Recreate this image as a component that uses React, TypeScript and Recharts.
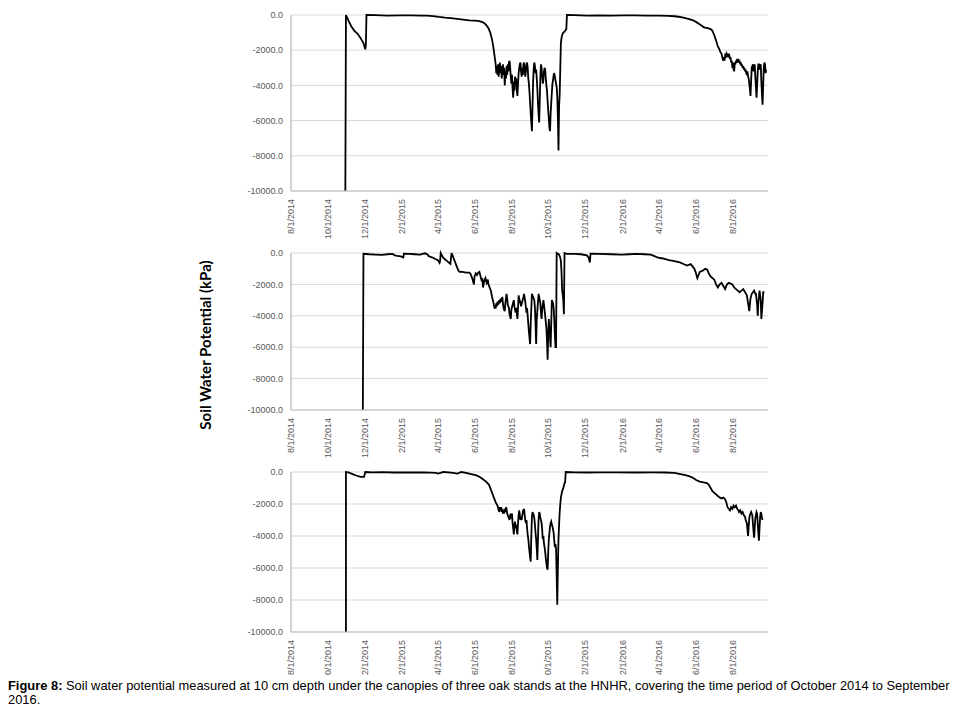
import { LineChart, Line, XAxis, YAxis, CartesianGrid } from 'recharts';

// soil water potential (kPa), [days since 8/1/2014, value]
const stand1: [number, number][] = [
  [90, -10000], [91, 0], [95, -300], [100, -650], [105, -900], [110, -1050], [115, -1300], [120, -1600], [123, -1950], [124, -1700], [125, 0],
  [140, -10], [160, -30], [180, -20], [200, -20], [215, -40], [225, -30], [235, -60], [245, -110], [255, -150], [265, -180], [275, -220],
  [285, -260], [295, -300], [305, -320], [312, -350], [318, -420], [323, -550], [327, -750], [330, -1000], [333, -1400], [335, -1800],
  [337, -2300], [339, -2800], [340, -3300], [341, -2900], [342, -3400], [343, -2800], [344, -3500], [345, -3000], [346, -2700], [347, -3300],
  [348, -2900], [349, -3600], [350, -3100], [351, -2800], [352, -3400], [353, -3000], [354, -4000], [355, -3200], [356, -3600], [357, -2900],
  [358, -3400], [359, -2800], [360, -3200], [361, -2700], [362, -2600], [363, -3000], [364, -3500], [365, -3900], [366, -3400], [367, -4200],
  [368, -4700], [369, -3800], [370, -4300], [371, -3500], [372, -4000], [373, -3600], [374, -4300], [375, -4600], [376, -3900], [377, -3300],
  [378, -3000], [379, -2800], [380, -2700], [381, -3200], [382, -3500], [383, -3000], [384, -3400], [385, -2800], [386, -2700], [387, -3100],
  [388, -3500], [389, -3200], [390, -2800], [391, -2700], [392, -3000], [393, -3600], [394, -3900], [395, -4400], [396, -5000], [397, -5600],
  [398, -6100], [399, -6600], [400, -5200], [401, -3800], [402, -3000], [403, -2700], [404, -2900], [405, -3300], [406, -3100], [407, -3600],
  [408, -4200], [409, -5000], [410, -5600], [411, -6100], [412, -4800], [413, -3500], [414, -2800], [415, -3000], [416, -3500], [417, -3900],
  [418, -3700], [419, -3200], [420, -3000], [421, -3100], [422, -3600], [423, -4000], [424, -4300], [425, -4900], [426, -5400], [427, -5900],
  [428, -6400], [429, -6600], [430, -5600], [431, -5000], [432, -4400], [433, -3900], [434, -3700], [435, -3400], [436, -3300], [437, -3500],
  [438, -3700], [439, -3900], [440, -4100], [441, -4600], [442, -5800], [443, -7700], [444, -5200], [445, -4500], [446, -3000], [447, -1600],
  [448, -1300], [449, -1150], [451, -1000], [453, -950], [455, -850], [456, -800], [457, 0],
  [470, -10], [490, -30], [510, -20], [530, -30], [550, -20], [570, -20], [590, -30], [610, -30], [625, -50], [635, -70], [642, -100],
  [650, -150], [658, -220], [666, -300], [672, -420], [678, -550], [684, -700], [690, -750], [695, -800], [698, -900], [701, -1150],
  [704, -1450], [707, -1800], [709, -1900], [711, -2100], [713, -2200], [715, -2500], [716, -2600], [717, -2400], [718, -2600], [719, -2300],
  [720, -2350], [721, -2200], [722, -2300], [723, -2250], [724, -2400], [725, -2200], [726, -2300], [727, -2500], [728, -2400], [729, -2700],
  [730, -2600], [731, -3000], [732, -2700], [733, -3100], [734, -3200], [735, -2700], [736, -2800], [737, -2600], [738, -2700], [739, -2500],
  [740, -2600], [741, -2500], [742, -2700], [743, -2600], [744, -2800], [745, -2700], [746, -2900], [747, -2800], [748, -3000], [749, -2900],
  [750, -3100], [751, -3000], [752, -3200], [753, -3100], [754, -3300], [755, -3400], [756, -3200], [757, -3500], [758, -3600], [759, -3900],
  [760, -4200], [761, -4600], [762, -3800], [763, -3000], [764, -2900], [765, -2800], [766, -3200], [767, -3000], [768, -2800], [769, -3500],
  [770, -4100], [771, -4700], [772, -4000], [773, -3200], [774, -2800], [775, -2800], [776, -3100], [777, -2900], [778, -2800], [779, -3800],
  [780, -4500], [781, -5100], [782, -4000], [783, -3000], [784, -2700], [785, -2800], [786, -3300], [787, -3100],
];

const stand2: [number, number][] = [
  [119, -10000], [120, -50], [130, -80], [140, -100], [150, -120], [160, -80], [168, -60], [172, -150], [176, -180], [180, -200], [184, -250],
  [186, -280], [187, -50], [195, -60], [205, -80], [214, -100], [218, -50], [222, -20], [226, -100], [228, -200], [235, -300], [240, -400],
  [243, -450], [246, -630], [247, -500], [248, 0], [250, -150], [252, -300], [255, -400], [258, -500], [261, -600], [264, -700], [265, -300],
  [266, 0], [268, -200], [270, -400], [274, -800], [277, -1100], [279, -1200], [284, -1200], [290, -1250], [295, -1250], [297, -1300],
  [300, -1600], [303, -2000], [304, -1500], [306, -1300], [308, -1400], [310, -1250], [312, -1200], [314, -1500], [316, -1800], [317, -1600],
  [318, -2200], [320, -1800], [322, -1600], [324, -1900], [326, -1700], [327, -2000], [329, -2200], [331, -2400], [333, -2800], [335, -3100],
  [336, -3300], [337, -3500], [339, -3500], [340, -3200], [341, -3400], [342, -3100], [343, -3300], [345, -3000], [346, -3200], [347, -2900],
  [348, -3100], [350, -2800], [351, -3200], [352, -3500], [354, -3700], [355, -3200], [357, -2600], [358, -2900], [359, -3300], [361, -3500],
  [362, -3900], [364, -4200], [365, -3600], [367, -3300], [369, -3000], [370, -3400], [372, -3800], [373, -3500], [375, -4200], [376, -3500],
  [377, -2700], [378, -2900], [380, -3200], [381, -3400], [383, -3100], [385, -2800], [386, -2600], [388, -3100], [390, -3800], [391, -3500],
  [393, -4500], [394, -5000], [396, -5800], [397, -4500], [399, -2600], [401, -2800], [403, -3000], [404, -3500], [405, -4500], [406, -5800],
  [407, -4200], [410, -2600], [411, -2800], [413, -3200], [414, -3800], [415, -4200], [416, -3600], [418, -3000], [419, -3300], [421, -4000],
  [423, -4800], [424, -5600], [425, -6800], [426, -5200], [427, -4200], [428, -4800], [430, -6000], [431, -4500], [432, -3000], [434, -3200],
  [435, -3500], [436, -4200], [437, -5200], [438, -6000], [439, -6000], [440, 0], [442, -50], [444, -100], [446, -300], [447, -500],
  [448, -1200], [449, -2300], [451, -3000], [452, -3900], [453, 0], [456, -50], [470, -60], [480, -80], [490, -150], [493, -300], [495, -600],
  [496, -50], [510, -60], [530, -80], [548, -100], [560, -80], [572, -50], [585, -80], [596, -100], [602, -200], [608, -300], [616, -350],
  [626, -450], [635, -520], [644, -600], [650, -700], [656, -800], [662, -700], [665, -850], [668, -1000], [670, -1200], [673, -1600],
  [675, -1400], [677, -1200], [680, -1150], [683, -1100], [686, -1000], [689, -1050], [692, -1300], [695, -1500], [698, -1600], [701, -1700],
  [704, -2000], [707, -2200], [710, -2000], [713, -1900], [716, -2100], [719, -2300], [722, -2000], [725, -1900], [728, -1950], [731, -2000],
  [734, -2200], [737, -2300], [740, -2400], [743, -2500], [746, -2400], [749, -2300], [752, -2500], [755, -2700], [757, -3200], [759, -3700],
  [761, -2900], [763, -2600], [765, -2500], [767, -2400], [769, -2600], [770, -2600], [772, -3300], [773, -4000], [774, -3200], [776, -2400],
  [778, -3000], [779, -4200], [781, -3200], [782, -2500], [784, -2500],
];

const stand3: [number, number][] = [
  [91, -10000], [91, 0], [95, -30], [100, -100], [103, -150], [108, -220], [115, -300], [121, -300], [123, 0], [135, -20], [150, -10],
  [170, -30], [187, -20], [205, -30], [220, -20], [240, -50], [243, -100], [248, -60], [252, 0], [265, -40], [276, -100], [282, 0], [290, -60],
  [300, -150], [306, -200], [312, -300], [318, -450], [323, -600], [328, -800], [331, -1100], [333, -1300], [336, -1600], [339, -1900],
  [342, -2100], [344, -2400], [345, -2500], [346, -2200], [347, -2400], [348, -2200], [349, -2500], [350, -2300], [351, -2600], [352, -2400],
  [353, -2600], [354, -2300], [355, -2500], [356, -2200], [357, -2300], [358, -2600], [360, -2800], [362, -3000], [363, -2700], [364, -2600],
  [365, -2900], [366, -2600], [367, -3200], [368, -3500], [369, -3900], [370, -3400], [371, -3100], [372, -3500], [373, -3300], [374, -3700],
  [375, -3900], [376, -3200], [377, -2700], [378, -2400], [379, -2700], [380, -3000], [381, -2800], [382, -3000], [383, -2700], [384, -2500],
  [385, -2600], [386, -2300], [387, -2700], [388, -3000], [389, -3200], [390, -3000], [391, -3500], [392, -3900], [393, -4200], [394, -4600],
  [395, -5000], [396, -5300], [397, -5600], [398, -4000], [399, -2800], [400, -2500], [401, -2600], [402, -2700], [403, -2900], [404, -3300],
  [405, -3800], [406, -4200], [407, -4800], [408, -5500], [409, -4200], [410, -3000], [411, -2500], [412, -2600], [413, -2900], [414, -3000],
  [415, -3200], [416, -3600], [417, -4200], [418, -4000], [419, -4500], [420, -4700], [421, -5000], [422, -5400], [423, -5700], [424, -6000],
  [425, -6100], [426, -5000], [427, -4200], [428, -3800], [429, -3400], [430, -3200], [431, -3100], [432, -3300], [433, -3400], [434, -3600],
  [435, -3800], [436, -4300], [437, -4700], [438, -4500], [439, -4800], [440, -6500], [441, -8300], [442, -6000], [443, -4200], [444, -3300],
  [445, -2500], [446, -2000], [447, -1600], [449, -1200], [451, -1000], [453, -700], [454, -650], [455, 0], [470, -20], [490, -30], [510, -20],
  [540, -20], [570, -30], [600, -20], [620, -30], [635, -50], [641, -100], [647, -150], [653, -200], [659, -250], [665, -350], [671, -500],
  [677, -600], [683, -650], [689, -700], [692, -800], [695, -1000], [698, -1200], [701, -1300], [704, -1400], [707, -1500], [710, -1600],
  [713, -1650], [716, -1600], [719, -1700], [721, -1900], [723, -2200], [725, -2300], [727, -2400], [729, -2200], [731, -2300], [733, -2100],
  [735, -2200], [737, -2100], [739, -2300], [741, -2400], [742, -2500], [744, -2400], [746, -2600], [748, -2500], [750, -2700], [752, -2800],
  [753, -3000], [755, -3200], [756, -3600], [757, -4000], [758, -3400], [759, -2900], [760, -2700], [761, -2600], [762, -2500], [764, -2700],
  [765, -3200], [766, -3700], [767, -4100], [768, -3500], [769, -2900], [770, -2700], [771, -2500], [772, -2600], [773, -3200], [774, -3800],
  [775, -4300], [776, -3500], [777, -2800], [778, -2500], [779, -2600], [780, -2900], [781, -3000],
];

const tickDates = [
  '2014-08-01', '2014-10-01', '2014-12-01', '2015-02-01', '2015-04-01', '2015-06-01', '2015-08-01',
  '2015-10-01', '2015-12-01', '2016-02-01', '2016-04-01', '2016-06-01', '2016-08-01',
];
const dateLabels = [
  '8/1/2014', '10/1/2014', '12/1/2014', '2/1/2015', '4/1/2015', '6/1/2015', '8/1/2015',
  '10/1/2015', '12/1/2015', '2/1/2016', '4/1/2016', '6/1/2016', '8/1/2016',
];
// third panel labels as printed (leading digit clipped)
const dateLabels3 = [
  '8/1/2014', '0/1/2014', '2/1/2014', '2/1/2015', '4/1/2015', '6/1/2015', '8/1/2015',
  '0/1/2015', '2/1/2015', '2/1/2016', '4/1/2016', '6/1/2016', '8/1/2016',
];
const yTicks = [-10000, -8000, -6000, -4000, -2000, 0];

const DAY = 86400000;
const start = Date.parse('2014-08-01');
const tickDays = tickDates.map((d) => Math.round((Date.parse(d) - start) / DAY));
const xDomain = [0, 790];

const font = "'Liberation Sans', Arial, sans-serif";
const grey = '#595959';

function makeTick(labels: string[]) {
  return (props: any) => {
    const { x, y, index } = props;
    return (
      <text
        x={x}
        y={y}
        dy="0.35em"
        transform={`rotate(-90 ${x} ${y})`}
        textAnchor="end"
        fontSize={9}
        fontFamily={font}
        fill={grey}
      >
        {labels[index]}
      </text>
    );
  };
}

function Panel({ rows, labels, top, plotH }: { rows: [number, number][]; labels: string[]; top: number; plotH: number }) {
  const data = rows.map(([day, kPa]) => ({ day, kPa }));
  const h = 15 + plotH + 55;
  return (
    <div style={{ position: 'absolute', left: 200, top }}>
      <LineChart width={580} height={h} data={data} margin={{ top: 15, right: 12, left: 0, bottom: 0 }}>
        <CartesianGrid vertical={false} stroke="#d9d9d9" />
        <XAxis
          type="number"
          dataKey="day"
          domain={xDomain}
          ticks={tickDays}
          interval={0}
          height={55}
          tickLine={false}
          axisLine={{ stroke: '#bfbfbf' }}
          tick={makeTick(labels)}
        />
        <XAxis
          xAxisId="top"
          orientation="top"
          type="number"
          dataKey="day"
          domain={xDomain}
          ticks={tickDays}
          interval={0}
          height={0}
          tick={false}
          tickSize={3}
          tickLine={{ stroke: '#a6a6a6' }}
          axisLine={{ stroke: '#a6a6a6' }}
        />
        <YAxis
          type="number"
          domain={[-10000, 0]}
          ticks={yTicks}
          interval={0}
          width={91}
          tickLine={false}
          axisLine={{ stroke: '#a6a6a6' }}
          tickFormatter={(v: number) => v.toFixed(1)}
          tick={{ fontSize: 9, fontFamily: font, fill: grey }}
        />
        <Line type="linear" dataKey="kPa" stroke="#000" strokeWidth={1.8} dot={false} isAnimationActive={false} />
      </LineChart>
    </div>
  );
}

export default function App() {
  return (
    <div style={{ position: 'absolute', left: 0, top: 0, width: 959, height: 717, background: '#fff' }}>
      <Panel rows={stand1} labels={dateLabels} top={0} plotH={176} />
      <Panel rows={stand2} labels={dateLabels} top={238} plotH={157} />
      <Panel rows={stand3} labels={dateLabels3} top={457} plotH={160} />
      <div
        style={{
          position: 'absolute',
          left: 205 - 140,
          top: 345 - 10,
          width: 280,
          height: 20,
          lineHeight: '20px',
          textAlign: 'center',
          transform: 'rotate(-90deg)',
          fontFamily: "Lato, 'Open Sans', sans-serif",
          fontWeight: 700,
          fontSize: 15,
          color: '#000',
        }}
      >
        Soil Water Potential (kPa)
      </div>
      <div
        style={{
          position: 'absolute',
          left: 8,
          top: 679,
          fontFamily: font,
          fontSize: 12.9,
          lineHeight: '14px',
          color: '#000',
          whiteSpace: 'nowrap',
        }}
      >
        <b>Figure 8:</b> Soil water potential measured at 10 cm depth under the canopies of three oak stands at the HNHR, covering the time period of October 2014 to September
        <br />
        2016.
      </div>
    </div>
  );
}
